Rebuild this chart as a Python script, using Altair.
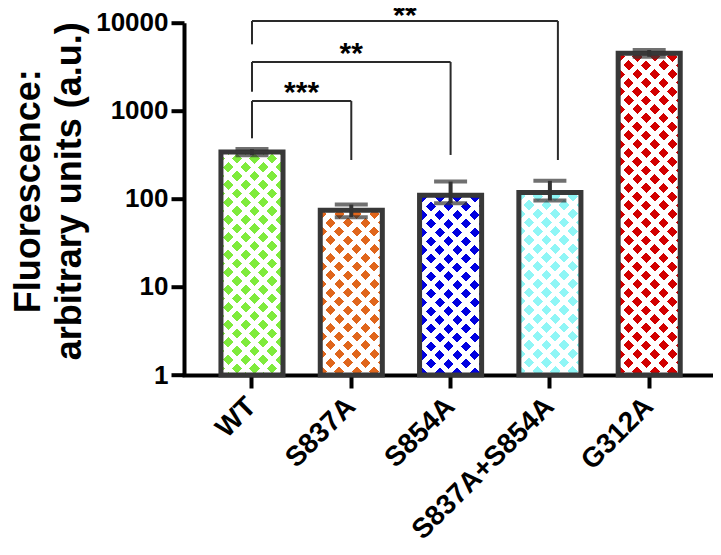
import math
import altair as alt
import pandas as pd

# ---------------- data ----------------
CATS = ["WT", "S837A", "S854A", "S837A+S854A", "G312A"]
MEANS = [340, 74, 110, 118, 4500]
LOWER = [313, 62, 89, 96, 4100]
UPPER = [367, 86, 157, 160, 4900]
COLORS = ["#7FEB3C", "#E0661C", "#0000E0", "#8FF6F6", "#D20000"]

BR_LEFT = ["WT", "WT", "WT"]
BR_RIGHT = ["S837A", "S854A", "S837A+S854A"]
BR_LEVEL = [1290, 3580, 10450]
BR_LEFT_END = [487, 1645, 5680]
BR_RIGHT_END = [276, 315, 276]
BR_LABEL = ["***", "**", "**"]

Y_TICKS = [1, 10, 100, 1000, 10000]

# ---------------- layout / style ----------------
W, H = 529, 352.3
P_IN, P_OUT, ALIGN = 0.375, 0.351, 0.53
STEP = W / (len(CATS) - P_IN + 2 * P_OUT)
BW = STEP * (1 - P_IN)
PX_DEC = H / 4.0
PERIOD = 17.5      # pattern period along x+y (px)
FRAC = 0.58        # coloured part of a period
BR_SHIFT = [0, 0, 8]
BR_DY = [1, 1, 4]
FONT = "Liberation Sans"

df = pd.DataFrame({"cat": CATS, "value": MEANS, "lo": LOWER, "hi": UPPER})
br = pd.DataFrame({"left": BR_LEFT, "right": BR_RIGHT, "level": BR_LEVEL,
                   "lend": BR_LEFT_END, "rend": BR_RIGHT_END, "label": BR_LABEL,
                   "idx": list(range(len(BR_LABEL)))})

xscale = alt.Scale(domain=CATS, paddingInner=P_IN, paddingOuter=P_OUT, align=ALIGN)
yscale = alt.Scale(type="log", domain=[1, 10000], nice=False)

xaxis = alt.Axis(title=None, labelAngle=315, labelAlign="right", labelBaseline="middle",
                 labelFont=FONT, labelFontSize=28, labelFontWeight="bold", labelColor="black",
                 labelPadding=14, labelLimit=500, tickSize=13, tickWidth=4, tickColor="black",
                 domainColor="black", domainWidth=4, domainCap="square", grid=False)
yaxis = alt.Axis(values=Y_TICKS, format="d", grid=False, labelOverlap=False,
                 labelFont=FONT, labelFontSize=26, labelFontWeight="bold", labelColor="black",
                 labelPadding=3, tickSize=13, tickWidth=4, tickColor="black",
                 domainColor="black", domainWidth=4,
                 title=["Fluorescence:", "arbitrary units (a.u.)"], titleFont=FONT,
                 titleFontSize=36, titleFontWeight="bold", titleColor="black",
                 titleAngle=270, titleAlign="center", titleBaseline="alphabetic",
                 titleX=-145, titleY=168, titleLineHeight=41)


def X(f):
    return alt.X(f + ":N", scale=xscale, axis=xaxis, sort=CATS)


def Y(f):
    return alt.Y(f + ":Q", scale=yscale, axis=yaxis)


def stops(on, off, length):
    out = []
    k = 0
    while k * PERIOD < length - 1e-9:
        t0 = round(k * PERIOD / length, 5)
        t1 = round(min((k * PERIOD + FRAC * PERIOD) / length, 1), 5)
        t2 = round(min((k + 1) * PERIOD / length, 1), 5)
        out += [alt.GradientStop(color=on, offset=t0), alt.GradientStop(color=on, offset=t1),
                alt.GradientStop(color=off, offset=t1), alt.GradientStop(color=off, offset=t2)]
        k += 1
    return out


base = alt.Chart(df)
layers = []
overlays = []
for c, v, col in zip(CATS, MEANS, COLORS):
    h = math.log10(v) * PX_DEC
    w = BW
    L = w + h
    k = L / (w * w + h * h)
    gu = alt.LinearGradient(gradient="linear", stops=stops(col, "white", L),
                            x1=0, y1=0, x2=w * k, y2=h * k)
    gv = alt.LinearGradient(gradient="linear", stops=stops("rgba(255,255,255,0)", "white", L),
                            x1=0, y1=1, x2=w * k, y2=1 - h * k)
    sel = base.transform_filter(alt.datum.cat == c)
    layers.append(sel.mark_bar(fill=gu).encode(x=X("cat"), y=Y("value"), y2=alt.datum(1)))
    overlays.append(sel.mark_bar(fill=gv).encode(x=X("cat"), y=Y("value"), y2=alt.datum(1)))

layers += overlays
layers.append(base.mark_bar(fill="white", fillOpacity=0, stroke="#383838", strokeWidth=5,
                            strokeJoin="miter")
              .encode(x=X("cat"), y=Y("value"), y2=alt.datum(1)))
layers.append(base.mark_rule(color="#333333", strokeWidth=4)
              .encode(x=X("cat"), y=Y("lo"), y2="hi:Q"))
layers.append(base.mark_tick(color="#333333", thickness=4, size=33)
              .encode(x=X("cat"), y=Y("hi")))
layers.append(base.mark_tick(color="#333333", thickness=4, size=33)
              .encode(x=X("cat"), y=Y("lo")))

bchart = alt.Chart(br)
for i in range(len(BR_LABEL)):
    s = bchart.transform_filter(alt.datum.idx == i)
    sh = BR_SHIFT[i]
    dist = CATS.index(BR_RIGHT[i]) - CATS.index(BR_LEFT[i])
    layers.append(s.mark_rule(color="#2a2a2a", strokeWidth=2, x2Offset=sh)
                  .encode(x=X("left"), x2="right:N", y=Y("level")))
    layers.append(s.mark_rule(color="#2a2a2a", strokeWidth=2)
                  .encode(x=X("left"), y=Y("level"), y2="lend:Q"))
    layers.append(s.mark_rule(color="#2a2a2a", strokeWidth=2, xOffset=sh)
                  .encode(x=X("right"), y=Y("level"), y2="rend:Q"))
    layers.append(s.mark_text(font=FONT, fontSize=30, fontWeight="bold", color="black",
                              align="center", baseline="alphabetic",
                              dx=(dist * STEP + sh) / 2, dy=BR_DY[i])
                  .encode(x=X("left"), y=Y("level"), text="label:N"))

chart = alt.layer(*layers).properties(
    width=W, height=H,
    autosize=alt.AutoSizeParams(type="none"),
    padding={"left": 176, "top": 14.7, "right": 0, "bottom": 172},
).configure_view(strokeWidth=0)

chart.save("out.html", embed_options={"renderer": "svg", "actions": False})
